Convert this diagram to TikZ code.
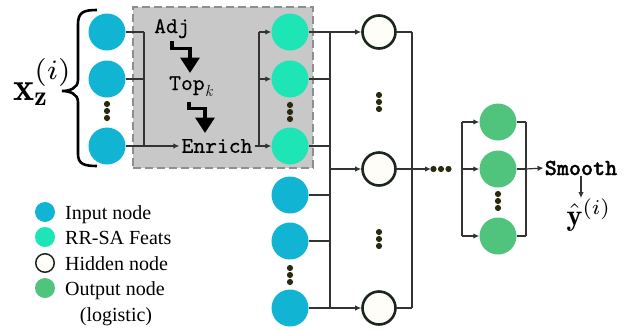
\documentclass[tikz,border=0pt]{standalone}
\usepackage{fontspec}
\usepackage{amsmath}
\newfontfamily\legendfont{Liberation Serif}
\newfontfamily\ttlab{lmmono10-regular.otf}[FakeBold=0.45]
\newfontfamily\smoothfont{lmmonolt10-bold.otf}[FakeBold=1.2]
\usetikzlibrary{arrows.meta}
\definecolor{inblue}{HTML}{12B4D4}
\definecolor{rrteal}{HTML}{1DE5B5}
\definecolor{outgreen}{HTML}{50C47C}
\definecolor{hidedge}{HTML}{1B2620}
\definecolor{hidfill}{HTML}{FFFDF8}
\definecolor{dotcol}{HTML}{2A2A10}
\definecolor{boxfill}{HTML}{C8C8C8}
\definecolor{boxedge}{HTML}{8A9090}
\definecolor{wire}{HTML}{333333}
\begin{document}
\begin{tikzpicture}[x=1pt,y=-1pt,
  innode/.style={circle,fill=inblue,minimum size=37pt,inner sep=0pt},
  rrnode/.style={circle,fill=rrteal,minimum size=37pt,inner sep=0pt},
  hidnode/.style={circle,draw=hidedge,line width=2.6pt,fill=hidfill,minimum size=33pt,inner sep=0pt},
  outnode/.style={circle,fill=outgreen,minimum size=37pt,inner sep=0pt},
  wirestyle/.style={draw=wire,line width=1.2pt},
  arr/.style={wirestyle,-{Latex[length=6pt,width=5.5pt]}},
  zig/.style={draw=black,line width=3.5pt,-{Triangle[length=15.5pt,width=19pt]}},
  ttlabel/.style={inner sep=1pt,font=\ttlab\fontsize{22.5}{25}\selectfont},
  legdot/.style={circle,minimum size=20pt,inner sep=0pt},
  legtext/.style={inner sep=0pt,font=\legendfont\fontsize{20}{24}\selectfont},
  vdotsthree/.pic={\foreach \d in {-7,0,7} \fill[dotcol] (0,\d) circle (3.1pt);},
  hdotsthree/.pic={\foreach \d in {-7.5,0,7.5} \fill[dotcol] (\d,0) circle (3.1pt);},
]
\useasboundingbox (0,0) rectangle (638,330);

% shaded RR-SA box
\node[draw=boxedge,fill=boxfill,line width=2.5pt,dash pattern=on 8pt off 4pt,
      minimum width=180pt,minimum height=161pt,inner sep=0pt] (box) at (223,87.5) {};

% brace and input label
\draw[line width=2.6pt] (97,10) .. controls (84,10) and (78,12) .. (78,24) -- (78,80)
  .. controls (78,88) and (70,91) .. (62,91) .. controls (70,91) and (78,94) .. (78,102)
  -- (78,154) .. controls (78,164) and (84,166) .. (97,166);
\node[scale=4,inner sep=0pt] (xz) at (43,82) {$\mathbf{x}_{\mathbf{z}}^{(i)}$};

% input nodes (first block)
\node[innode] (in1) at (107,32) {};
\node[innode] (in2) at (107,79) {};
\node[innode] (in3) at (107,146) {};
\pic at (107,111) {vdotsthree};

% text steps
\node[ttlabel,anchor=base west,inner sep=0pt] (adj) at (154,33) {Adj};
\node[ttlabel,anchor=base west,inner sep=0pt] (topk) at (169,90)
  {Top\kern0.5pt\raisebox{-6pt}{\fontsize{16}{16}\selectfont\rmfamily\itshape k}};
\node[ttlabel,inner sep=2pt] (enrich) at (217,146) {Enrich};
\coordinate (z1s) at (172,41);
\coordinate (z1e) at (190,73);
\coordinate (z2s) at (189,102);
\coordinate (z2e) at (205,133);
\draw[zig] (z1s) -- ++(0,7.5) -| (z1e);
\draw[zig] (z2s) -- ++(0,6.5) -| (z2e);

% input -> Enrich
\coordinate (busA) at (144,0);
\draw[wirestyle] (in1.east) -- (in1.east -| busA);
\draw[wirestyle] (in2.east) -- (in2.east -| busA);
\draw[wirestyle] (in1.east -| busA) -- (in3.east -| busA);
\draw[arr] (in3.east) -- (enrich.west);

% RR-SA feature nodes
\node[rrnode] (rr1) at (290,32) {};
\node[rrnode] (rr2) at (290,79) {};
\node[rrnode] (rr3) at (290,146) {};
\pic at (290,112) {vdotsthree};
\coordinate (busR) at (259,0);
\draw[wirestyle] (enrich.east) -- (enrich.east -| busR);
\draw[wirestyle] (rr1.west -| busR) -- (rr3.west -| busR);
\draw[arr] (rr1.west -| busR) -- (rr1.west);
\draw[arr] (rr2.west -| busR) -- (rr2.west);
\draw[arr] (rr3.west -| busR) -- (rr3.west);

% lower input nodes
\node[innode] (in4) at (290,195) {};
\node[innode] (in5) at (290,241) {};
\node[innode] (in6) at (290,308) {};
\pic at (290,275) {vdotsthree};

% hidden layer
\node[hidnode] (h1) at (379,32) {};
\node[hidnode] (h2) at (379,169) {};
\node[hidnode] (h3) at (379,308) {};
\pic at (379,102) {vdotsthree};
\pic at (379,239) {vdotsthree};

\coordinate (busB) at (330,0);
\foreach \n in {rr1,rr2,rr3,in4,in5,in6}
  \draw[wirestyle] (\n.east) -- (\n.east -| busB);
\draw[wirestyle] (rr1.east -| busB) -- (in6.east -| busB);
\draw[arr] (h1.west -| busB) -- (h1.west);
\draw[arr] (h2.west -| busB) -- (h2.west);
\draw[arr] (h3.west -| busB) -- (h3.west);

\coordinate (busC) at (412,0);
\foreach \n in {h1,h2,h3}
  \draw[wirestyle] (\n.east) -- (\n.east -| busC);
\draw[wirestyle] (h1.east -| busC) -- (h3.east -| busC);
\coordinate (hd) at (431,169);
\draw[arr] (h2.east -| busC) -- (hd);
\pic at (441,169) {hdotsthree};

% output layer
\node[outnode] (o1) at (498,122) {};
\node[outnode] (o2) at (498,169) {};
\node[outnode] (o3) at (498,236) {};
\pic at (498,201) {vdotsthree};
\coordinate (busD) at (462,0);
\draw[wirestyle] (o1.west -| busD) -- (o3.west -| busD);
\foreach \n in {o1,o2,o3}
  \draw[arr] (\n.west -| busD) -- (\n.west);
\coordinate (busE) at (526,0);
\foreach \n in {o1,o2,o3}
  \draw[wirestyle] (\n.east) -- (\n.east -| busE);
\draw[wirestyle] (o1.east -| busE) -- (o3.east -| busE);

\node[inner sep=1pt,font=\smoothfont\fontsize{23}{26}\selectfont] (smooth) at (581,168) {Smooth};
\draw[arr] (o2.east -| busE) -- (smooth.west);
\node[scale=3,inner sep=0pt] (yhat) at (589,215) {$\hat{\mathbf{y}}^{(i)}$};
\draw[arr] (smooth.south) -- (smooth.south |- yhat.north);

% legend
\node[legdot,fill=inblue] (l1) at (45,212) {};
\node[legdot,fill=rrteal] (l2) at (45,237) {};
\node[legdot,draw=hidedge,line width=1.5pt,fill=hidfill,minimum size=18.5pt] (l3) at (45,263) {};
\node[legdot,fill=outgreen] (l4) at (45,288) {};
\node[legtext,anchor=base west] (t1) at (65,219) {Input node};
\node[legtext,anchor=base west] (t2) at (65,244.5) {RR-SA Feats};
\node[legtext,anchor=base west] (t3) at (65,270) {Hidden node};
\node[legtext,anchor=base west] (t4) at (65,295.5) {Output node};
\node[legtext,anchor=base] (t5) at (116,321) {(logistic)};
\end{tikzpicture}
\end{document}
